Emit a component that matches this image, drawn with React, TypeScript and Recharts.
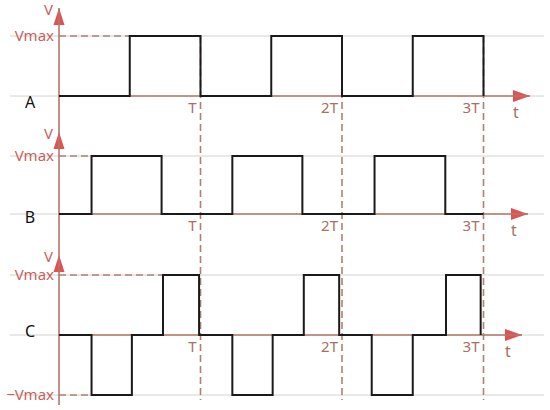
import { ComposedChart, Line, XAxis, YAxis, ReferenceLine, ReferenceDot } from "recharts";

// time is in periods (T), level is in units of Vmax
const panelNames = ["A", "B", "C"];
const periodTicks = [1, 2, 3];
const periodTickLabels = ["T", "2T", "3T"];

const timesA = [0, 0.5, 1, 1.5, 2, 2.5, 3];
const levelsA = [0, 1, 0, 1, 0, 1, 0];

const timesB = [0, 0.23, 0.725, 1.225, 1.72, 2.23, 2.73, 3];
const levelsB = [0, 1, 0, 1, 0, 1, 0, 0];

const timesC = [0, 0.23, 0.515, 0.735, 0.99, 1.225, 1.51, 1.73, 1.98, 2.21, 2.5, 2.735, 2.98];
const levelsC = [0, -1, 0, 1, 0, -1, 0, 1, 0, -1, 0, 1, 0];

const toPoints = (times: number[], levels: number[]) => times.map((t, i) => ({ t, v: levels[i] }));
const waves: Record<string, { t: number; v: number }[]> = {
  A: toPoints(timesA, levelsA),
  B: toPoints(timesB, levelsB),
  C: toPoints(timesC, levelsC),
};

// layout (pixels)
const W = 550;
const H = 410;
const margin = { top: 8, right: 6, bottom: 5, left: 10 };
const originX = 59;
const periodPx = 141.5;
const layout: Record<string, { zero: number; vmax: number; vTip: number; tTip: number; nameDy: number }> = {
  A: { zero: 96, vmax: 36, vTip: 8, tTip: 530, nameDy: 12 },
  B: { zero: 214, vmax: 156, vTip: 132, tTip: 528, nameDy: 9 },
  C: { zero: 335, vmax: 275, vTip: 255, tTip: 522, nameDy: 2 },
};

const AXIS = "#b3776a";
const ARROW = "#e05252";
const DASH = "#b08072";
const GRID = "#d2d2d2";
const RED_TEXT = "#c9625c";
const TICK_TEXT = "#a8705f";
const FONT = "'Noto Sans', Arial, sans-serif";

const plotTop = margin.top;
const plotBottom = H - margin.bottom;
const xValueAt = (px: number) => (px - originX) / periodPx;
const xDomain = [xValueAt(margin.left), xValueAt(W - margin.right)];
const yValueAt = (p: string, px: number) => (layout[p].zero - px) / (layout[p].zero - layout[p].vmax);
const yDomain = (p: string) => [yValueAt(p, plotBottom), yValueAt(p, plotTop)];

function YArrow({ cx, cy }: any) {
  return (
    <g>
      <polygon points={`${cx},${cy} ${cx - 5.5},${cy + 17} ${cx + 5.5},${cy + 17}`} fill={ARROW} />
      <line x1={cx} y1={cy + 2} x2={cx} y2={cy + 17} stroke={AXIS} strokeWidth={1.5} />
      <text x={cx - 6} y={cy + 7} textAnchor="end" fontSize={15} fontFamily={FONT} fill={RED_TEXT}>V</text>
    </g>
  );
}

function XArrow({ cx, cy }: any) {
  return (
    <g>
      <polygon points={`${cx},${cy} ${cx - 17},${cy - 6} ${cx - 17},${cy + 6}`} fill={ARROW} />
      <line x1={cx - 17} y1={cy} x2={cx - 2} y2={cy} stroke={AXIS} strokeWidth={1.5} />
      <text x={cx - 14} y={cy + 22} textAnchor="middle" fontSize={16} fontFamily={FONT} fill={TICK_TEXT}>t</text>
    </g>
  );
}

export default function App() {
  const grid: any[] = [];
  const guides: any[] = [];
  const axes: any[] = [];
  const series: any[] = [];
  const marks: any[] = [];

  panelNames.forEach((p) => {
    const wave = waves[p];
    const levels = wave.map((d) => d.v);
    const hasNeg = levels.includes(-1);
    const gridLevels = hasNeg ? [1, 0, -1] : [1, 0];
    gridLevels.forEach((lv) =>
      grid.push(<ReferenceLine key={`g${p}${lv}`} yAxisId={p} y={lv} stroke={GRID} strokeWidth={1} ifOverflow="visible" />)
    );

    const firstHigh = wave.find((d) => d.v === 1)!.t;
    guides.push(
      <ReferenceLine
        key={`h${p}`}
        yAxisId={p}
        segment={[{ x: 0, y: 1 }, { x: firstHigh, y: 1 }]}
        stroke={DASH}
        strokeWidth={1.6}
        strokeDasharray="7 4"
        ifOverflow="visible"
        label={{ value: "Vmax", position: "left", offset: 5, fill: RED_TEXT, fontSize: 15, fontFamily: FONT }}
      />
    );
    if (hasNeg) {
      const firstLow = wave.find((d) => d.v === -1)!.t;
      guides.push(
        <ReferenceLine
          key={`n${p}`}
          yAxisId={p}
          segment={[{ x: 0, y: -1 }, { x: firstLow, y: -1 }]}
          stroke={DASH}
          strokeWidth={1.6}
          strokeDasharray="7 4"
          ifOverflow="visible"
          label={{ value: "\u2212Vmax", position: "left", offset: 5, fill: RED_TEXT, fontSize: 15, fontFamily: FONT }}
        />
      );
    }

    axes.push(
      <ReferenceLine
        key={`t${p}`}
        yAxisId={p}
        segment={[{ x: 0, y: 0 }, { x: xValueAt(layout[p].tTip), y: 0 }]}
        stroke={AXIS}
        strokeWidth={1.6}
        ifOverflow="visible"
      />
    );

    series.push(
      <Line
        key={`w${p}`}
        yAxisId={p}
        data={wave}
        dataKey="v"
        type="stepAfter"
        stroke="#1a1a1a"
        strokeWidth={2}
        dot={false}
        isAnimationActive={false}
      />
    );

    marks.push(
      <ReferenceDot key={`va${p}`} yAxisId={p} x={0} y={yValueAt(p, layout[p].vTip)} ifOverflow="visible" shape={(s: any) => <YArrow {...s} />} />,
      <ReferenceDot key={`ta${p}`} yAxisId={p} x={xValueAt(layout[p].tTip)} y={0} ifOverflow="visible" shape={(s: any) => <XArrow {...s} />} />,
      <ReferenceDot
        key={`nm${p}`}
        yAxisId={p}
        x={xDomain[0]}
        y={0}
        ifOverflow="visible"
        shape={(s: any) => (
          <text x={s.cx + 20} y={s.cy + layout[p].nameDy} textAnchor="middle" fontSize={16} fontFamily={FONT} fill="#111">
            {p}
          </text>
        )}
      />
    );
    periodTicks.forEach((k, i) =>
      marks.push(
        <ReferenceDot
          key={`k${p}${k}`}
          yAxisId={p}
          x={k}
          y={0}
          ifOverflow="visible"
          shape={(s: any) => (
            <text x={s.cx - 4} y={s.cy + 17} textAnchor="end" fontSize={15} fontFamily={FONT} fill={TICK_TEXT}>
              {periodTickLabels[i]}
            </text>
          )}
        />
      )
    );
  });

  periodTicks.forEach((k) =>
    guides.push(
      <ReferenceLine
        key={`v${k}`}
        yAxisId="A"
        segment={[{ x: k, y: 1 }, { x: k, y: yValueAt("A", 400) }]}
        stroke={DASH}
        strokeWidth={1.6}
        strokeDasharray="7 4"
        ifOverflow="visible"
      />
    )
  );

  return (
    <div style={{ position: "absolute", left: 0, top: 0, width: W, height: H, background: "#fff" }}>
      <ComposedChart width={W} height={H} margin={margin}>
        <XAxis xAxisId={0} type="number" dataKey="t" domain={xDomain} allowDataOverflow hide />
        {panelNames.map((p) => (
          <YAxis key={`y${p}`} yAxisId={p} type="number" domain={yDomain(p)} allowDataOverflow hide />
        ))}
        {grid}
        {guides}
        <ReferenceLine yAxisId="A" x={0} stroke={AXIS} strokeWidth={1.6} ifOverflow="visible" />
        {axes}
        {series}
        {marks}
      </ComposedChart>
    </div>
  );
}
